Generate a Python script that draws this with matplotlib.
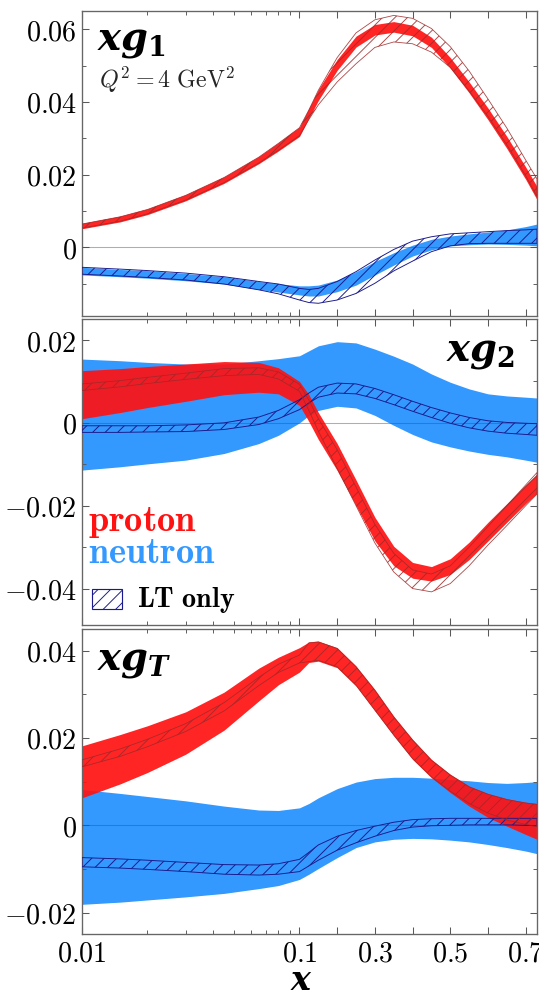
import numpy as np
import matplotlib
matplotlib.use("Agg")
import matplotlib.pyplot as plt
from matplotlib.patches import Rectangle

# x grid shared by all bands
X = [0.01, 0.015, 0.02, 0.03, 0.045, 0.065, 0.08, 0.1, 0.125, 0.15, 0.2,
     0.25, 0.3, 0.35, 0.4, 0.45, 0.5, 0.55, 0.6, 0.65, 0.7, 0.73]

# ---- xg1 ------------------------------------------------------------------
G1_P_LO = [0.0051, 0.0070, 0.0090, 0.0128, 0.0176, 0.0230, 0.0265, 0.0305, 0.0355, 0.0404, 0.0487,
           0.0551, 0.0584, 0.0592, 0.0582, 0.0550, 0.0493, 0.0425, 0.0351, 0.0272, 0.0187, 0.0131]
G1_P_HI = [0.0066, 0.0086, 0.0106, 0.0145, 0.0194, 0.0250, 0.0288, 0.0331, 0.0383, 0.0434, 0.0517,
           0.0581, 0.0613, 0.0621, 0.0611, 0.0578, 0.0522, 0.0455, 0.0383, 0.0305, 0.0221, 0.0167]
G1_P_LT_LO = [0.0053, 0.0072, 0.0092, 0.0130, 0.0178, 0.0232, 0.0267, 0.0307, 0.0352, 0.0392, 0.0455,
              0.0505, 0.0550, 0.0565, 0.0560, 0.0537, 0.0495, 0.0430, 0.0360, 0.0282, 0.0197, 0.0140]
G1_P_LT_HI = [0.0064, 0.0084, 0.0104, 0.0143, 0.0192, 0.0248, 0.0286, 0.0329, 0.0378, 0.0432, 0.0522,
              0.0590, 0.0626, 0.0638, 0.0630, 0.0602, 0.0552, 0.0485, 0.0408, 0.0328, 0.0240, 0.0188]
G1_N_LO = [-0.0076, -0.0081, -0.0085, -0.0092, -0.0101, -0.0116, -0.0123, -0.0131, -0.0134, -0.0134, -0.0122,
           -0.0104, -0.0076, -0.0049, -0.0024, -0.0007, 0.0004, 0.0007, 0.0009, 0.0008, 0.0006, 0.0004]
G1_N_HI = [-0.0055, -0.0061, -0.0064, -0.0072, -0.0081, -0.0094, -0.0100, -0.0106, -0.0106, -0.0104, -0.0090,
           -0.0067, -0.0039, -0.0015, 0.0006, 0.0022, 0.0031, 0.0037, 0.0042, 0.0048, 0.0057, 0.0064]
G1_N_LT_LO = [-0.0074, -0.0079, -0.0083, -0.0090, -0.0101, -0.0117, -0.0128, -0.0145, -0.0152, -0.0154, -0.0145,
              -0.0127, -0.0099, -0.0065, -0.0038, -0.0012, 0.0004, 0.0010, 0.0011, 0.0011, 0.0011, 0.0011]
G1_N_LT_HI = [-0.0055, -0.0060, -0.0064, -0.0071, -0.0081, -0.0094, -0.0101, -0.0113, -0.0116, -0.0113, -0.0094,
              -0.0067, -0.0035, -0.0006, 0.0017, 0.0029, 0.0037, 0.0040, 0.0043, 0.0046, 0.0048, 0.0050]

# ---- xg2 ------------------------------------------------------------------
G2_P_LO = [0.0010, 0.0025, 0.0037, 0.0052, 0.0068, 0.0074, 0.0070, 0.0042, 0.0003, -0.0040, -0.0115,
           -0.0200, -0.0285, -0.0345, -0.0375, -0.0382, -0.0366, -0.0330, -0.0285, -0.0240, -0.0195, -0.0170]
G2_P_HI = [0.0126, 0.0131, 0.0136, 0.0142, 0.0148, 0.0146, 0.0133, 0.0100, 0.0068, 0.0025, -0.0050,
           -0.0138, -0.0228, -0.0298, -0.0337, -0.0347, -0.0328, -0.0288, -0.0240, -0.0195, -0.0150, -0.0124]
G2_P_LT_LO = [0.0078, 0.0087, 0.0095, 0.0105, 0.0114, 0.0117, 0.0106, 0.0076, 0.0030, -0.0020, -0.0110,
              -0.0200, -0.0290, -0.0360, -0.0400, -0.0408, -0.0388, -0.0345, -0.0295, -0.0248, -0.0200, -0.0172]
G2_P_LT_HI = [0.0094, 0.0102, 0.0110, 0.0120, 0.0131, 0.0133, 0.0123, 0.0093, 0.0055, 0.0010, -0.0065,
              -0.0155, -0.0245, -0.0315, -0.0355, -0.0365, -0.0345, -0.0300, -0.0250, -0.0200, -0.0150, -0.0120]
G2_N_LO = [-0.0114, -0.0106, -0.0099, -0.0090, -0.0074, -0.0050, -0.0030, 0.0000, 0.0018, 0.0030, 0.0040,
           0.0036, 0.0018, -0.0006, -0.0028, -0.0046, -0.0058, -0.0068, -0.0076, -0.0082, -0.0090, -0.0095]
G2_N_HI = [0.0154, 0.0150, 0.0146, 0.0142, 0.0142, 0.0150, 0.0155, 0.0162, 0.0174, 0.0186, 0.0196,
           0.0193, 0.0178, 0.0161, 0.0142, 0.0118, 0.0098, 0.0082, 0.0070, 0.0065, 0.0062, 0.0060]
G2_N_LT_LO = [-0.0023, -0.0023, -0.0022, -0.0021, -0.0016, -0.0004, 0.0010, 0.0032, 0.0048, 0.0062, 0.0072,
              0.0070, 0.0059, 0.0044, 0.0028, 0.0013, -0.0001, -0.0012, -0.0020, -0.0025, -0.0028, -0.0030]
G2_N_LT_HI = [-0.0007, -0.0007, -0.0007, -0.0005, 0.0000, 0.0014, 0.0030, 0.0056, 0.0072, 0.0086, 0.0096,
              0.0094, 0.0083, 0.0068, 0.0052, 0.0037, 0.0024, 0.0013, 0.0005, 0.0001, -0.0001, -0.0002]

# ---- xgT ------------------------------------------------------------------
GT_P_LO = [0.0063, 0.0095, 0.0121, 0.0163, 0.0218, 0.0285, 0.0322, 0.0351, 0.0373, 0.0376, 0.0361,
           0.0319, 0.0262, 0.0205, 0.0151, 0.0109, 0.0075, 0.0044, 0.0018, -0.0002, -0.0021, -0.0032]
GT_P_HI = [0.0182, 0.0208, 0.0228, 0.0260, 0.0305, 0.0360, 0.0385, 0.0407, 0.0420, 0.0422, 0.0407,
           0.0365, 0.0311, 0.0250, 0.0197, 0.0151, 0.0117, 0.0090, 0.0073, 0.0061, 0.0053, 0.0050]
GT_P_LT_LO = [0.0134, 0.0158, 0.0180, 0.0215, 0.0262, 0.0320, 0.0350, 0.0372, 0.0375, 0.0378, 0.0363,
              0.0321, 0.0264, 0.0207, 0.0153, 0.0111, 0.0078, 0.0050, 0.0028, 0.0012, 0.0002, -0.0003]
GT_P_LT_HI = [0.0150, 0.0175, 0.0197, 0.0233, 0.0281, 0.0339, 0.0369, 0.0390, 0.0418, 0.0420, 0.0405,
              0.0363, 0.0309, 0.0248, 0.0195, 0.0149, 0.0115, 0.0088, 0.0071, 0.0059, 0.0051, 0.0048]
GT_N_LO = [-0.0181, -0.0176, -0.0171, -0.0164, -0.0156, -0.0145, -0.0138, -0.0124, -0.0112, -0.0099, -0.0074,
           -0.0051, -0.0038, -0.0032, -0.0030, -0.0031, -0.0034, -0.0038, -0.0044, -0.0051, -0.0059, -0.0065]
GT_N_HI = [0.0082, 0.0073, 0.0066, 0.0056, 0.0044, 0.0035, 0.0034, 0.0040, 0.0050, 0.0063, 0.0084,
           0.0099, 0.0107, 0.0110, 0.0110, 0.0108, 0.0105, 0.0102, 0.0098, 0.0096, 0.0098, 0.0100]
GT_N_LT_LO = [-0.0095, -0.0098, -0.0101, -0.0106, -0.0112, -0.0114, -0.0112, -0.0106, -0.0093, -0.0080, -0.0057,
              -0.0040, -0.0025, -0.0012, -0.0004, -0.0001, 0.0000, 0.0001, 0.0001, 0.0001, 0.0000, -0.0001]
GT_N_LT_HI = [-0.0074, -0.0077, -0.0080, -0.0085, -0.0090, -0.0091, -0.0088, -0.0078, -0.0062, -0.0045, -0.0025,
              -0.0012, -0.0002, 0.0007, 0.0013, 0.0015, 0.0016, 0.0016, 0.0016, 0.0016, 0.0016, 0.0016]

# ---- axes ticks -------------------------------------------------------------
X_MAJOR = [0.01, 0.1, 0.2, 0.3, 0.4, 0.5, 0.6, 0.7]
X_LABELS = ["0.01", "0.1", "", "0.3", "", "0.5", "", "0.7"]
X_MINOR = [0.02, 0.03, 0.04, 0.05, 0.06, 0.07, 0.08, 0.09]

Y1_TICKS = [0.0, 0.02, 0.04, 0.06]
Y1_MINOR = [-0.01, 0.01, 0.03, 0.05]
Y2_TICKS = [-0.04, -0.02, 0.0, 0.02]
Y2_MINOR = [-0.03, -0.01, 0.01]
YT_TICKS = [-0.02, 0.0, 0.02, 0.04]
YT_MINOR = [-0.01, 0.01, 0.03]

RED = "#ff1212"
BLUE = "#3399ff"
NAVY = "#1a1a8c"
DARKRED = "#a02828"

K_LIN = 1.7335  # slope of the linear part relative to one log decade


def _fwd(x):
    x = np.asarray(x, dtype=float)
    lg = np.log10(np.clip(x, 1e-6, None))
    return np.where(x <= 0.1, lg, -1.0 + (x - 0.1) * K_LIN)


def _inv(u):
    u = np.asarray(u, dtype=float)
    return np.where(u <= -1.0, 10.0 ** np.minimum(u, 3.0), 0.1 + (u + 1.0) / K_LIN)


def _ylabels(vals):
    out = []
    for v in vals:
        if v == 0:
            out.append(r"$0$")
        else:
            out.append(r"$%s$" % ("%.2f" % v))
    return out


def draw_panel(ax, red, red_lt, blue, blue_lt, ylim, yticks, yminor, bottom=False):
    ax.set_xscale("function", functions=(_fwd, _inv))
    ax.fill_between(X, blue[0], blue[1], color=BLUE, lw=0, zorder=1)
    ax.fill_between(X, red[0], red[1], color=RED, alpha=0.92, lw=0, zorder=2)
    ax.axhline(0, color="0.3", lw=1.0, alpha=0.45, zorder=3)

    plt.rcParams["hatch.color"] = NAVY
    ax.fill_between(X, blue_lt[0], blue_lt[1], facecolor="none", edgecolor=NAVY,
                    hatch="//", lw=0.9, zorder=4)
    plt.rcParams["hatch.color"] = DARKRED
    ax.fill_between(X, red_lt[0], red_lt[1], facecolor="none", edgecolor=DARKRED,
                    hatch="//", lw=0.8, alpha=0.85, zorder=5)

    ax.set_xlim(0.01, 0.73)
    ax.set_ylim(*ylim)
    ax.set_xticks(X_MAJOR)
    ax.set_xticklabels([r"$%s$" % s if s else "" for s in X_LABELS] if bottom
                       else [""] * len(X_MAJOR))
    ax.set_xticks(X_MINOR, minor=True)
    ax.set_xticklabels([""] * len(X_MINOR), minor=True)
    ax.set_yticks(yticks)
    ax.set_yticklabels(_ylabels(yticks))
    ax.set_yticks(yminor, minor=True)
    ax.tick_params(which="both", direction="in", top=True, right=True,
                   color="0.35", labelsize=27, pad=5)
    ax.tick_params(which="major", length=7, width=1.0)
    ax.tick_params(which="minor", length=4, width=0.9)
    for s in ax.spines.values():
        s.set_color("0.4")
        s.set_linewidth(1.3)


plt.rcParams["mathtext.fontset"] = "cm"
plt.rcParams["mathtext.rm"] = "DejaVu Serif:bold"
plt.rcParams["mathtext.bf"] = "DejaVu Serif:italic:bold"
plt.rcParams["mathtext.it"] = "DejaVu Serif:italic:bold"
plt.rcParams["hatch.linewidth"] = 0.9

fig = plt.figure(figsize=(539 / 75, 996 / 75), dpi=75)
L, W = 82 / 539, 455 / 539
ax1 = fig.add_axes([L, 680 / 996, W, 305.3 / 996])
ax2 = fig.add_axes([L, 371 / 996, W, 305.7 / 996])
ax3 = fig.add_axes([L, 62 / 996, W, 304.7 / 996])

draw_panel(ax1, (G1_P_LO, G1_P_HI), (G1_P_LT_LO, G1_P_LT_HI),
           (G1_N_LO, G1_N_HI), (G1_N_LT_LO, G1_N_LT_HI),
           (-0.0189, 0.0651), Y1_TICKS, Y1_MINOR)
draw_panel(ax2, (G2_P_LO, G2_P_HI), (G2_P_LT_LO, G2_P_LT_HI),
           (G2_N_LO, G2_N_HI), (G2_N_LT_LO, G2_N_LT_HI),
           (-0.0488, 0.025), Y2_TICKS, Y2_MINOR)
draw_panel(ax3, (GT_P_LO, GT_P_HI), (GT_P_LT_LO, GT_P_LT_HI),
           (GT_N_LO, GT_N_HI), (GT_N_LT_LO, GT_N_LT_HI),
           (-0.0249, 0.0449), YT_TICKS, YT_MINOR, bottom=True)

# panel titles
ax1.text(0.034, 0.872, r"$\mathbf{xg}_{\mathrm{1}}$", transform=ax1.transAxes,
         fontsize=37, math_fontfamily="custom", va="baseline")
ax1.text(0.037, 0.747, r"$Q^2 = 4\ \mathrm{GeV}^2$", transform=ax1.transAxes,
         fontsize=23, va="baseline", color="0.15")
ax2.text(0.952, 0.864, r"$\mathbf{xg}_{\mathrm{2}}$", transform=ax2.transAxes,
         fontsize=37, math_fontfamily="custom", va="baseline", ha="right")
ax3.text(0.034, 0.868, r"$\mathbf{xg}_{\mathbf{T}}$", transform=ax3.transAxes,
         fontsize=37, math_fontfamily="custom", va="baseline")

# legend drawn by hand
ax2.text(0.013, 0.307, r"$\mathbf{proton}$", transform=ax2.transAxes,
         fontsize=35, color=RED, va="baseline", zorder=6)
ax2.text(0.013, 0.203, r"$\mathbf{neutron}$", transform=ax2.transAxes,
         fontsize=35, color=BLUE, va="baseline", zorder=6)
ax2.add_patch(Rectangle((0.022, 0.052), 0.066, 0.065, transform=ax2.transAxes,
                        facecolor="none", edgecolor=NAVY, hatch="//", lw=1.1, zorder=6))
ax2.text(0.121, 0.058, r"$\mathbf{LT\ only}$", transform=ax2.transAxes,
         fontsize=27, va="baseline", zorder=6)

fig.text(301 / 539, 1 - 990 / 996, r"$\mathbf{x}$", fontsize=32,
         math_fontfamily="custom", ha="center", va="baseline")

fig.savefig("out.png", dpi=75)
